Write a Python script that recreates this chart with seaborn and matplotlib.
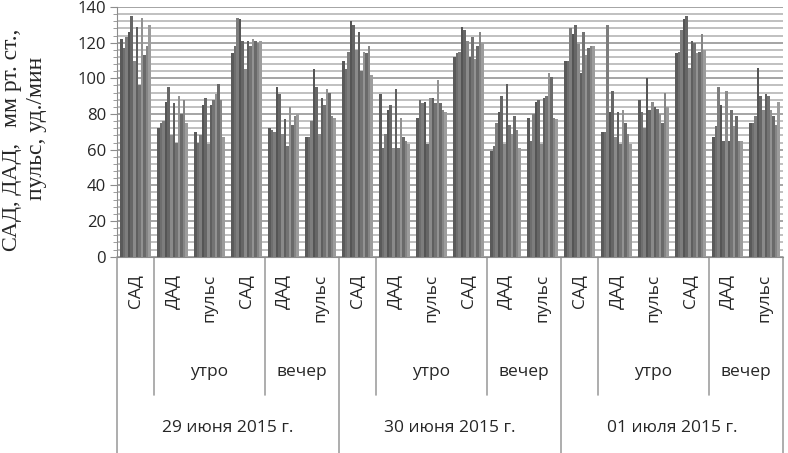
import matplotlib
matplotlib.use("Agg")
from matplotlib import pyplot as plt
from matplotlib import transforms
from matplotlib.ticker import MultipleLocator
import pandas as pd
import seaborn as sns

# values of 12 series per group
d29 = [
    [122, 117, 123, 126, 135, 110, 129, 96, 134, 113, 118, 130],
    [72, 75, 76, 87, 95, 68, 86, 64, 90, 80, 88, 75],
    [70, 64, 68, 85, 89, 63, 85, 88, 91, 97, 88, 67],
    [114, 118, 134, 133, 121, 105, 121, 118, 122, 121, 120, 121],
    [72, 71, 70, 95, 91, 69, 77, 62, 84, 74, 79, 80],
    [67, 67, 76, 105, 95, 69, 89, 85, 94, 92, 79, 78],
]
d30 = [
    [110, 105, 115, 132, 130, 116, 126, 104, 115, 114, 118, 102],
    [91, 61, 69, 82, 85, 61, 94, 61, 78, 67, 65, 63],
    [78, 88, 86, 87, 63, 89, 89, 86, 99, 86, 82, 81],
    [112, 114, 115, 129, 127, 121, 112, 123, 111, 118, 126, 120],
    [59, 62, 75, 81, 90, 63, 97, 74, 69, 79, 71, 61],
    [78, 65, 80, 87, 88, 63, 89, 90, 103, 101, 78, 77],
]
d01 = [
    [110, 110, 128, 125, 130, 119, 103, 126, 113, 117, 118, 118],
    [70, 70, 130, 81, 93, 67, 81, 63, 82, 75, 69, 63],
    [88, 81, 72, 100, 82, 87, 84, 83, 80, 75, 92, 84],
    [114, 115, 127, 133, 135, 106, 121, 120, 114, 115, 125, 116],
    [67, 73, 95, 85, 65, 93, 65, 82, 73, 79, 65, 65],
    [75, 75, 79, 106, 90, 82, 91, 90, 82, 79, 74, 87],
]
measures = ["САД", "ДАД", "пульс", "САД", "ДАД", "пульс"]
times = ["утро", "вечер"]
dates = ["29 июня 2015 г.", "30 июня 2015 г.", "01 июля 2015 г."]

greys = ['#5a5a5a', '#6e6e6e', '#7d7d7d', '#555555', '#666666', '#8a8a8a',
         '#5f5f5f', '#737373', '#929292', '#6a6a6a', '#858585', '#9c9c9c']

rows = []
for k, day in enumerate([d29, d30, d01]):
    for g, vals in enumerate(day):
        for s, v in enumerate(vals):
            rows.append({"cat": "c%d" % (k * 6 + g), "series": "s%d" % s, "value": v})
df = pd.DataFrame(rows)
order = ["c%d" % i for i in range(18)]
hue_order = ["s%d" % i for i in range(12)]

sns.set_style("white")
fig = plt.figure(figsize=(7.88, 4.53), dpi=100)
W, H = 788, 453
ax = fig.add_axes([117 / W, 1 - 256.7 / H, (783 - 117) / W, (256.7 - 7) / H])

sns.barplot(data=df, x="cat", y="value", hue="series", order=order,
            hue_order=hue_order, palette=greys, width=0.82, linewidth=0,
            legend=False, ax=ax, zorder=3)

ax.set_xlim(-0.5, 17.5)
ax.set_ylim(0, 140)
ax.yaxis.set_major_locator(MultipleLocator(20))
ax.yaxis.set_minor_locator(MultipleLocator(4))
ax.grid(axis="y", which="major", color="#959595", lw=1.2, zorder=0)
ax.grid(axis="y", which="minor", color="#afafaf", lw=1.1, zorder=0)
ax.set_axisbelow(True)
for side in ["top", "right"]:
    ax.spines[side].set_visible(False)
ax.spines["left"].set_color("#8c8c8c")
ax.spines["bottom"].set_color("#8c8c8c")
ax.set_xticks([])
ax.set_xlabel("")
ax.set_ylabel("")
ax.tick_params(axis="y", which="major", direction="out", length=5, color="#8c8c8c",
               labelsize=12, pad=3, left=True)
ax.tick_params(axis="y", which="minor", direction="out", length=3, color="#8c8c8c", left=True)
for t in ax.get_yticklabels():
    t.set_family("Open Sans")

blend = transforms.blended_transform_factory(ax.transData, fig.transFigure)


def fy(px):
    return 1 - px / H


lab_font = "Open Sans"
fs = 12.5
for i in range(18):
    ax.text(i, fy(274), measures[i % 6], rotation=90, ha="center", va="top",
            fontsize=fs, family=lab_font, transform=blend, clip_on=False)
for k in range(3):
    ax.text(k * 6 + 2, fy(372), times[0], ha="center", va="center",
            fontsize=fs, family=lab_font, transform=blend)
    ax.text(k * 6 + 4.5, fy(372), times[1], ha="center", va="center",
            fontsize=fs, family=lab_font, transform=blend)
    ax.text(k * 6 + 2.5, fy(428), dates[k], ha="center", va="center",
            fontsize=fs, family=lab_font, transform=blend)

line_kw = dict(color="#a0a0a0", lw=1.2, transform=blend, clip_on=False)
for b in [1, 4, 7, 10, 13, 16]:
    ax.plot([b - 0.5, b - 0.5], [fy(256.7), fy(395)], **line_kw)
for b in [0, 6, 12, 18]:
    ax.plot([b - 0.5, b - 0.5], [fy(256.7), fy(453)], **line_kw)

# y axis title, mixed sizes like the original
fig.text(17 / W, fy(251), "САД, ДАД,", rotation=90, rotation_mode="anchor",
         ha="left", va="baseline", fontsize=16, family="Liberation Serif")
fig.text(17 / W, fy(127), "мм рт. ст.,", rotation=90, rotation_mode="anchor",
         ha="left", va="baseline", fontsize=17, family="Liberation Serif")
fig.text(42 / W, fy(200), "пульс, уд./мин", rotation=90, rotation_mode="anchor",
         ha="left", va="baseline", fontsize=17, family="Liberation Serif")

fig.savefig("out.png", dpi=100)
